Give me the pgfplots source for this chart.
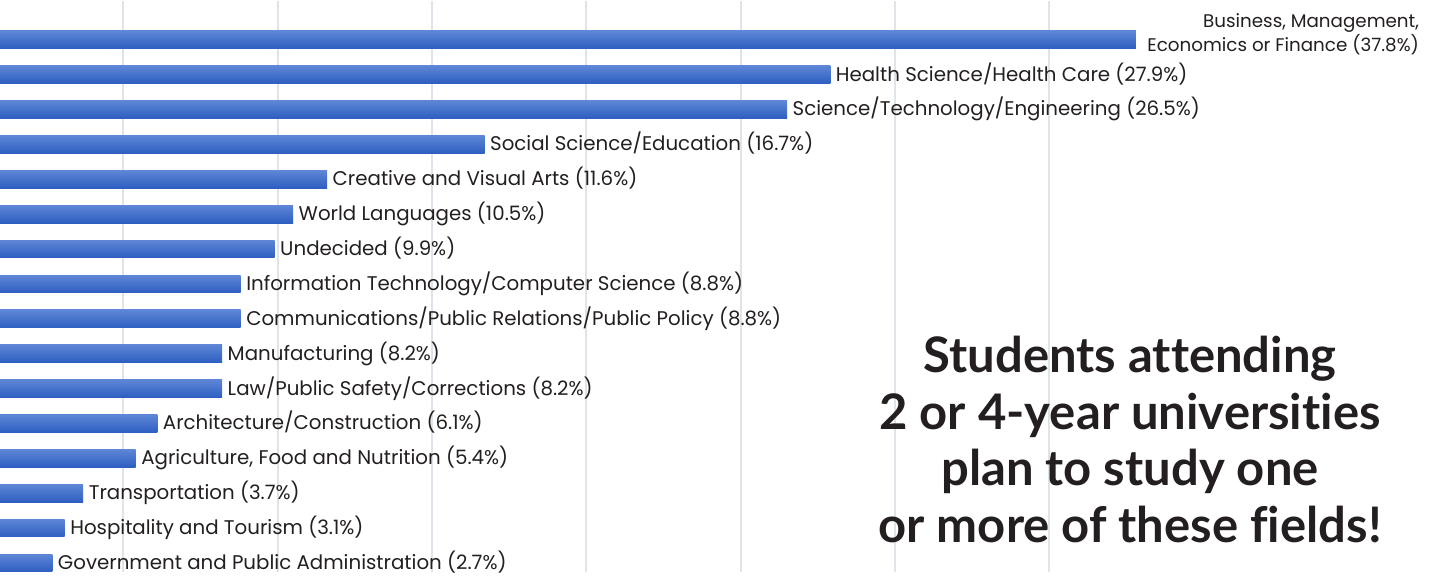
\documentclass[border=0pt]{standalone}
\usepackage{pgfplots}
\pgfplotsset{compat=1.18}
\usepackage{pgfplotstable}
\usepackage{fontspec}
\setmainfont{Poppins}
\newfontfamily\titlefont[Ligatures={NoCommon}]{Lato}
\definecolor{txt}{HTML}{231F20}
\definecolor{barTop}{HTML}{5E86D6}
\definecolor{barBot}{HTML}{2D5EC1}
\definecolor{gridc}{HTML}{DFE4EB}
\newcommand{\firstlabel}{\hspace{3bp}\raisebox{-2.8bp}{\fontsize{9.15bp}{11.7bp}\selectfont\begin{tabular}[b]{@{}r@{}}Business, Management,\\Economics or Finance (37.8\%)\end{tabular}}}
\pgfplotstableread{
idx val label
0 37.8 {\firstlabel}
1 27.9 {Health Science/Health Care (27.9\%)}
2 26.5 {Science/Technology/Engineering (26.5\%)}
3 16.7 {Social Science/Education (16.7\%)}
4 11.6 {Creative and Visual Arts (11.6\%)}
5 10.5 {World Languages (10.5\%)}
6 9.9 {Undecided (9.9\%)}
7 8.8 {Information Technology/Computer Science (8.8\%)}
8 8.8 {Communications/Public Relations/Public Policy (8.8\%)}
9 8.2 {Manufacturing (8.2\%)}
10 8.2 {Law/Public Safety/Corrections (8.2\%)}
11 6.1 {Architecture/Construction (6.1\%)}
12 5.4 {Agriculture, Food and Nutrition (5.4\%)}
13 3.7 {Transportation (3.7\%)}
14 3.1 {Hospitality and Tourism (3.1\%)}
15 2.7 {Government and Public Administration (2.7\%)}
}\datatable
\begin{document}
\begin{tikzpicture}
\begin{axis}[
  scale only axis, width=717.5bp, height=285.5bp,
  xbar, bar width=8.85bp, bar shift=0pt,
  xmin=1.004, xmax=47.49, ymin=-1.112, ymax=15.258, y dir=reverse,
  xtick={5,10,...,35}, xticklabels={}, ytick=\empty,
  xmajorgrids, major grid style={gridc, line width=1bp},
  axis line style={draw=none}, tick style={draw=none},
  nodes near coords={\pgfplotspointmeta}, point meta=explicit symbolic,
  every node near coord/.append style={anchor=base west, yshift=-3.2bp, xshift=2.6bp,
    inner sep=0pt, font=\fontsize{9.9bp}{11.7bp}\selectfont, text=txt},
]
\pgfplotsinvokeforeach{0,...,15}{
  \addplot[draw=none, top color=barTop, bottom color=barBot, bar shift=0pt,
    restrict expr to domain={\coordindex}{#1:#1}]
    table[x=val, y=idx, meta=label] {\datatable};
}
\node[align=center, font=\titlefont\fontsize{24.5bp}{28.25bp}\selectfont\bfseries, text=txt]
  at (axis description cs:0.7875,0.232) {Students attending\\2 or 4-year universities\\plan to study one\\or more of these fields!};
\end{axis}
\end{tikzpicture}
\end{document}
